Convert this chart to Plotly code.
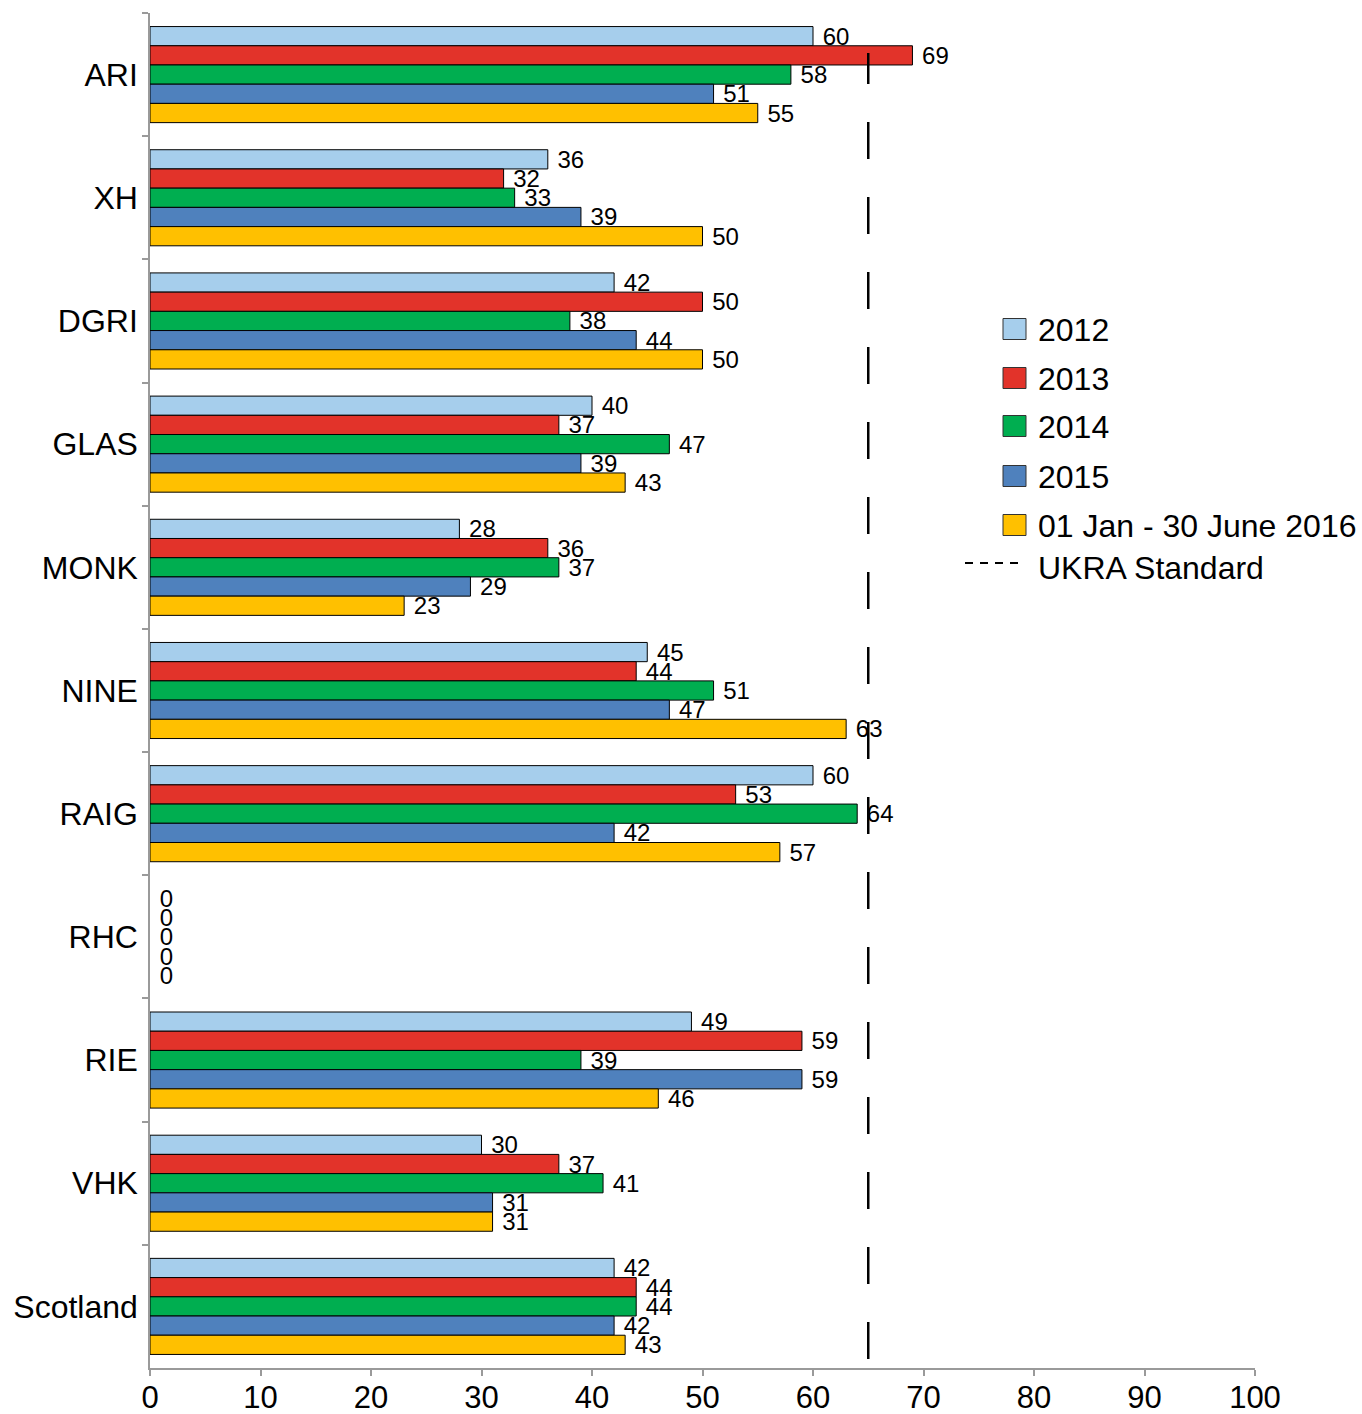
import plotly.graph_objects as go

# Sites, top to bottom
categories = ["ARI", "XH", "DGRI", "GLAS", "MONK", "NINE", "RAIG", "RHC", "RIE", "VHK", "Scotland"]

# Series names and values per site
series_names = ["2012", "2013", "2014", "2015", "01 Jan - 30 June 2016"]
values_2012 = [60, 36, 42, 40, 28, 45, 60, 0, 49, 30, 42]
values_2013 = [69, 32, 50, 37, 36, 44, 53, 0, 59, 37, 44]
values_2014 = [58, 33, 38, 47, 37, 51, 64, 0, 39, 41, 44]
values_2015 = [51, 39, 44, 39, 29, 47, 42, 0, 59, 31, 42]
values_2016 = [55, 50, 50, 43, 23, 63, 57, 0, 46, 31, 43]

# UKRA standard threshold
ukra_standard = 65
ukra_label = "UKRA Standard"

x_ticks = [0, 10, 20, 30, 40, 50, 60, 70, 80, 90, 100]

colors = ["#A6CEEC", "#E2332A", "#00AE50", "#4F81BD", "#FFC000"]
FONT = "Liberation Sans, Arial, Helvetica, sans-serif"

all_values = [values_2012, values_2013, values_2014, values_2015, values_2016]

# Figure geometry (pixels)
W, H = 1362, 1414
M_L, M_R, M_T, M_B = 150, 107, 13, 46
PLOT_W = W - M_L - M_R
PLOT_H = H - M_T - M_B


def px_x(px):
    return (px - M_L) / PLOT_W


def px_y(py):
    return (H - M_B - py) / PLOT_H


fig = go.Figure()

for name, vals, col in zip(series_names, all_values, colors):
    fig.add_trace(go.Bar(
        y=categories,
        x=vals,
        orientation="h",
        name=name,
        marker=dict(color=col,
                    line=dict(color="#000000",
                              width=[1 if v > 0 else 0 for v in vals])),
        text=["\u00a0" + str(v) for v in vals],
        textposition="outside",
        constraintext="none",
        cliponaxis=False,
        textfont=dict(family=FONT, size=24, color="#000000"),
        showlegend=False,
    ))

# UKRA standard reference line
fig.add_shape(
    type="line", xref="x", yref="paper",
    x0=ukra_standard, x1=ukra_standard, y0=px_y(1359), y1=px_y(53),
    line=dict(color="#000000", width=2.5, dash="37px,38px"),
    layer="above",
)

# Legend: colour swatches with labels, then the dashed standard line
legend_rows = [329, 378, 426, 476, 525]
for name, col, cy in zip(series_names, colors, legend_rows):
    fig.add_shape(
        type="rect", xref="paper", yref="paper",
        x0=px_x(1003), x1=px_x(1026), y0=px_y(cy + 10.5), y1=px_y(cy - 10.5),
        fillcolor=col, line=dict(color="#333333", width=1),
    )
    fig.add_annotation(
        x=px_x(1036), y=px_y(cy + 1), xref="paper", yref="paper",
        text=name, showarrow=False, xanchor="left", yanchor="middle",
        font=dict(family=FONT, size=32, color="#000000"),
    )
fig.add_shape(
    type="line", xref="paper", yref="paper",
    x0=px_x(965), x1=px_x(1018), y0=px_y(563), y1=px_y(563),
    line=dict(color="#000000", width=2, dash="8px,7px"),
)
fig.add_annotation(
    x=px_x(1036), y=px_y(568), xref="paper", yref="paper",
    text=ukra_label, showarrow=False, xanchor="left", yanchor="middle",
    font=dict(family=FONT, size=32, color="#000000"),
)

fig.update_layout(
    width=W, height=H,
    margin=dict(l=M_L, r=M_R, t=M_T, b=M_B),
    paper_bgcolor="#FFFFFF",
    plot_bgcolor="#FFFFFF",
    barmode="group",
    bargap=0.22,
    bargroupgap=0,
    showlegend=False,
    font=dict(family=FONT, size=32, color="#000000"),
    xaxis=dict(
        range=[0, 100],
        tickvals=x_ticks,
        ticktext=[str(t) for t in x_ticks],
        showgrid=False, zeroline=False,
        showline=True, linecolor="#9A9A9A", linewidth=1.5,
        ticks="outside", ticklen=6, tickcolor="#9A9A9A", tickwidth=1.5,
        ticklabelstandoff=-5,
        tickfont=dict(family=FONT, size=31, color="#000000"),
        automargin=False,
        fixedrange=True,
    ),
    yaxis=dict(
        categoryorder="array",
        categoryarray=categories,
        autorange="reversed",
        showgrid=False, zeroline=False,
        showline=True, linecolor="#9A9A9A", linewidth=1.5,
        ticks="outside", ticklen=6, tickcolor="#9A9A9A", tickwidth=1.5,
        tickson="boundaries",
        ticklabelstandoff=4,
        tickfont=dict(family=FONT, size=32, color="#000000"),
        automargin=False,
        fixedrange=True,
    ),
)

fig.write_html("out.html")
